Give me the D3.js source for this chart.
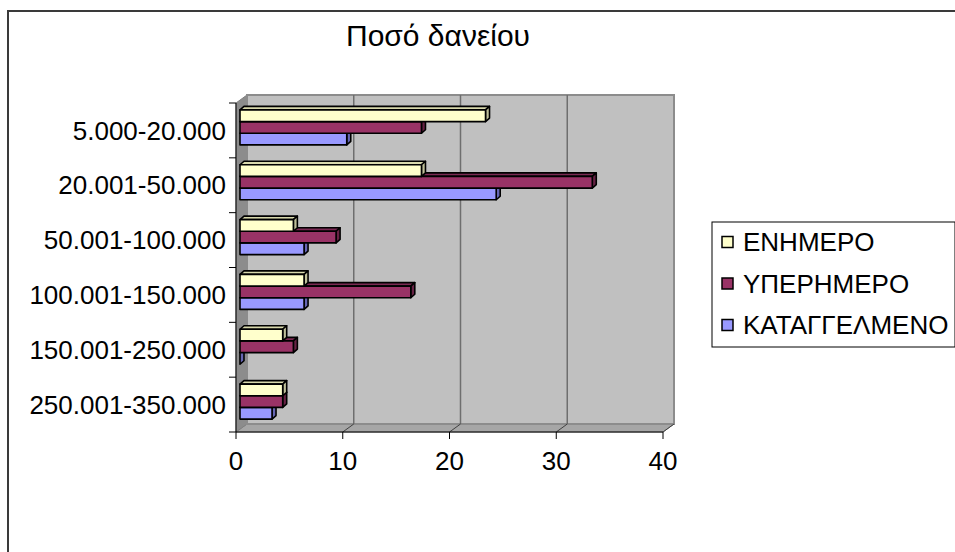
<!DOCTYPE html>
<html>
<head>
<meta charset="utf-8">
<script src="https://cdn.jsdelivr.net/npm/d3@7"></script>
<style>
  body { margin: 0; background: #fff; }
  svg { display: block; font-family: Arial, "Liberation Sans", sans-serif; }
</style>
</head>
<body>
<svg id="chart" width="955" height="552"></svg>
<script>
// categories (top to bottom) and series values
const categories = ['5.000-20.000', '20.001-50.000', '50.001-100.000', '100.001-150.000', '150.001-250.000', '250.001-350.000'];
const seriesNames = ['ΕΝΗΜΕΡΟ', 'ΥΠΕΡΗΜΕΡΟ', 'ΚΑΤΑΓΓΕΛΜΕΝΟ'];
const enhmero = [23, 17, 5, 6, 4, 4];
const yperhmero = [17, 33, 9, 16, 5, 4];
const katagg = [10, 24, 6, 6, 0, 3];
const xTicks = [0, 10, 20, 30, 40];
const chartTitle = 'Ποσό δανείου';

const seriesValues = [enhmero, yperhmero, katagg];
const palette = [
    { front: '#FFFFCC', top: '#D9D9AD', side: '#BFBF99' },
    { front: '#993366', top: '#7A2952', side: '#662244' },
    { front: '#9999FF', top: '#7A7ACC', side: '#6666B3' }
];

const svg = d3.select('#chart');

// 3d wall depth
const dX = 11, dY = -8;
// bars sit a bit inside the depth
const bX = 4, bY = -3, bD = 4, bDy = -3.5;

const x = d3.scaleLinear().domain([0, 40]).range([236, 663]);
const y = d3.scaleBand().domain(categories).range([103, 432]);
const yInner = d3.scaleBand().domain(seriesNames).range([0, y.bandwidth()]).paddingOuter(0.85).paddingInner(0);

// outer frame
svg.append('rect')
    .attr('x', 8).attr('y', 11)
    .attr('width', 1000).attr('height', 600)
    .attr('fill', 'none').attr('stroke', '#3a3a3a').attr('stroke-width', 2);

// title
svg.append('text')
    .attr('x', 438).attr('y', 46)
    .attr('text-anchor', 'middle')
    .attr('font-size', 30)
    .text(chartTitle);

const x0 = x(0), x1 = x(40), yTop = y.range()[0], yBot = y.range()[1];
const pts = a => a.map(p => p.join(',')).join(' ');

// floor
svg.append('polygon')
    .attr('points', pts([[x0, yBot], [x0 + dX, yBot + dY], [x1 + dX, yBot + dY], [x1, yBot]]))
    .attr('fill', '#A6A6A6').attr('stroke', '#808080').attr('stroke-width', 1);

// side wall
svg.append('polygon')
    .attr('points', pts([[x0, yTop], [x0 + dX, yTop + dY], [x0 + dX, yBot + dY], [x0, yBot]]))
    .attr('fill', '#8C8C8C').attr('stroke', '#808080').attr('stroke-width', 1);

// back wall
svg.append('rect')
    .attr('x', x0 + dX).attr('y', yTop + dY)
    .attr('width', x1 - x0).attr('height', yBot - yTop)
    .attr('fill', '#C0C0C0').attr('stroke', '#8C8C8C').attr('stroke-width', 2);

// gridlines on back wall and floor
xTicks.slice(1, -1).forEach(t => {
    svg.append('line')
        .attr('x1', x(t) + dX).attr('x2', x(t) + dX)
        .attr('y1', yTop + dY).attr('y2', yBot + dY)
        .attr('stroke', '#6E6E6E').attr('stroke-width', 1.5);
});
xTicks.slice(1).forEach(t => {
    svg.append('line')
        .attr('x1', x(t)).attr('y1', yBot)
        .attr('x2', x(t) + dX).attr('y2', yBot + dY)
        .attr('stroke', '#404040').attr('stroke-width', 1);
});

// bars
const bars = svg.append('g');
categories.forEach((cat, ci) => {
    // draw bottom series first so upper bars hide their top faces
    for (let si = seriesNames.length - 1; si >= 0; si--) {
        const v = seriesValues[si][ci];
        const c = palette[si];
        const left = x(0) + bX;
        const right = x(v) + bX;
        const top = y(cat) + yInner(seriesNames[si]) + bY;
        const bot = top + yInner.bandwidth();
        const g = bars.append('g')
            .attr('stroke', '#000').attr('stroke-width', 1.6).attr('stroke-linejoin', 'round');
        g.append('polygon')
            .attr('points', pts([[left, top], [left + bD, top + bDy], [right + bD, top + bDy], [right, top]]))
            .attr('fill', c.top);
        g.append('polygon')
            .attr('points', pts([[right, top], [right + bD, top + bDy], [right + bD, bot + bDy], [right, bot]]))
            .attr('fill', c.side);
        g.append('rect')
            .attr('x', left).attr('y', top)
            .attr('width', right - left).attr('height', bot - top)
            .attr('fill', c.front);
    }
});

// axes
const yAxis = svg.append('g').attr('transform', `translate(${x0},0)`);
yAxis.append('line').attr('x1', 0).attr('x2', 0).attr('y1', yTop).attr('y2', yBot)
    .attr('stroke', '#000').attr('stroke-width', 1);
const catEdges = categories.map(c => y(c)).concat([yBot]);
catEdges.forEach(e => {
    yAxis.append('line').attr('x1', -7).attr('x2', 0).attr('y1', e).attr('y2', e)
        .attr('stroke', '#000').attr('stroke-width', 1);
});
categories.forEach(c => {
    yAxis.append('text')
        .attr('x', -10).attr('y', y(c) + y.bandwidth() / 2)
        .attr('dy', '0.35em')
        .attr('text-anchor', 'end')
        .attr('font-size', 26)
        .text(c);
});

const xAxis = svg.append('g').attr('transform', `translate(0,${yBot})`);
xAxis.append('line').attr('x1', x0).attr('x2', x1).attr('y1', 0).attr('y2', 0)
    .attr('stroke', '#000').attr('stroke-width', 1);
xTicks.forEach(t => {
    xAxis.append('line').attr('x1', x(t)).attr('x2', x(t)).attr('y1', 0).attr('y2', 7)
        .attr('stroke', '#000').attr('stroke-width', 1);
    xAxis.append('text')
        .attr('x', x(t)).attr('y', 38)
        .attr('text-anchor', 'middle')
        .attr('font-size', 26)
        .text(t);
});

// legend
const legend = svg.append('g');
legend.append('rect')
    .attr('x', 712).attr('y', 222).attr('width', 243).attr('height', 125)
    .attr('fill', '#fff').attr('stroke', '#000').attr('stroke-width', 1);
seriesNames.forEach((name, i) => {
    const cy = 242 + i * 41.5;
    legend.append('rect')
        .attr('x', 722).attr('y', cy - 5.5).attr('width', 11).attr('height', 11)
        .attr('fill', palette[i].front).attr('stroke', '#000').attr('stroke-width', 1.5);
    legend.append('text')
        .attr('x', 743).attr('y', cy).attr('dy', '0.35em')
        .attr('font-size', 26)
        .text(name);
});
</script>
</body>
</html>
